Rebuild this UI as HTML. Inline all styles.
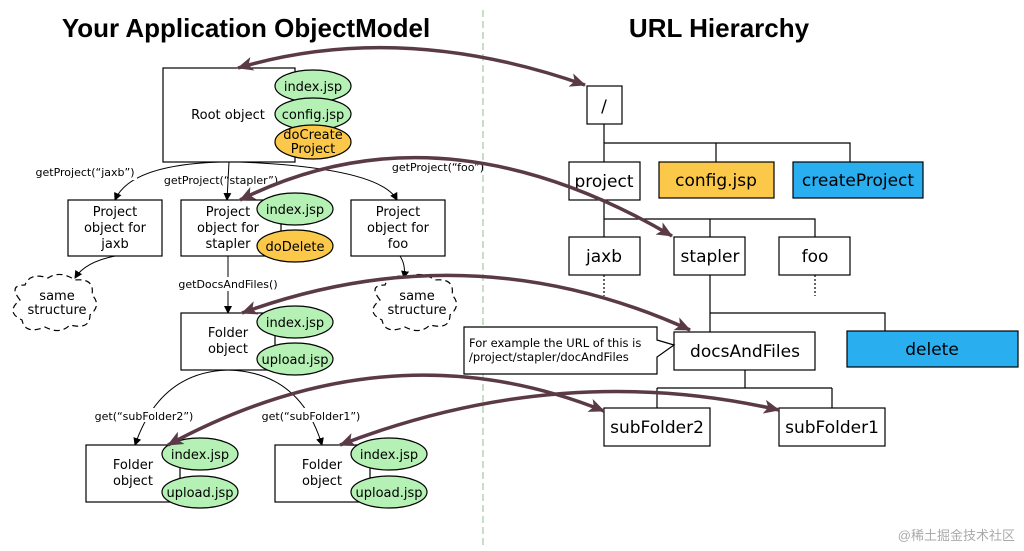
<!DOCTYPE html>
<html><head><meta charset="utf-8"><style>
html,body{margin:0;padding:0;background:#fff;}
svg{display:block;}
text{font-family:"DejaVu Sans","Liberation Sans",sans-serif;}
</style></head><body>
<svg width="1024" height="551" viewBox="0 0 1024 551" xmlns="http://www.w3.org/2000/svg">
<defs>
<marker id="ba" markerWidth="8" markerHeight="8" refX="7" refY="4" orient="auto" markerUnits="userSpaceOnUse"><path d="M0,0 L8,4 L0,8 z" fill="#000"/></marker>
<marker id="bb" markerWidth="16" markerHeight="14" refX="15" refY="7" orient="auto" markerUnits="userSpaceOnUse"><path d="M0,0 L16,7 L0,14 L4,7 z" fill="#5a3a46"/></marker>
<marker id="bs" markerWidth="16" markerHeight="14" refX="1" refY="7" orient="auto" markerUnits="userSpaceOnUse"><path d="M16,0 L0,7 L16,14 L12,7 z" fill="#5a3a46"/></marker>
</defs>
<text x="246" y="37" font-size="26" font-weight="bold" text-anchor="middle" style="font-family:'Liberation Sans',sans-serif">Your Application ObjectModel</text>
<text x="719" y="37" font-size="26" font-weight="bold" text-anchor="middle" style="font-family:'Liberation Sans',sans-serif">URL Hierarchy</text>
<line x1="483" y1="10" x2="483" y2="545" stroke="#8fbf8f" stroke-dasharray="7,4"/>

<g fill="none" stroke="#000" stroke-width="1">
<path d="M220,162 Q130,165 115,200" marker-end="url(#ba)"/>
<path d="M229,162 L227,200" marker-end="url(#ba)"/>
<path d="M240,162 Q380,168 397,200" marker-end="url(#ba)"/>
<path d="M115,256 Q85,262 75,278" marker-end="url(#ba)"/>
<path d="M400,256 Q406,265 404,278" marker-end="url(#ba)"/>
<path d="M228,256 L228,313" marker-end="url(#ba)"/>
<path d="M228,370 Q160,372 135,445" marker-end="url(#ba)"/>
<path d="M228,370 Q300,372 322,445" marker-end="url(#ba)"/>
</g>
<g font-size="11" text-anchor="middle" fill="#000">
<rect x="95" y="168" width="42" height="12" fill="#fff"/>
<text x="85" y="176">getProject(“jaxb”)</text>
<text x="221" y="184">getProject(“stapler”)</text>
<text x="438" y="171">getProject(“foo”)</text>
<rect x="180" y="277" width="96" height="14" fill="#fff"/>
<text x="228" y="288">getDocsAndFiles()</text>
<rect x="96" y="408" width="98" height="14" fill="#fff"/>
<text x="144" y="420">get(“subFolder2”)</text>
<rect x="262" y="408" width="98" height="14" fill="#fff"/>
<text x="311" y="420">get(“subFolder1”)</text>
</g>

<g stroke="#000" stroke-width="1.2" fill="#fff">
<rect x="163" y="68" width="132" height="94"/>
<rect x="68" y="200" width="94" height="56"/>
<rect x="181" y="200" width="100" height="56"/>
<rect x="351" y="200" width="94" height="56"/>
<rect x="181" y="313" width="94" height="57"/>
<rect x="86" y="445" width="94" height="57"/>
<rect x="275" y="445" width="95" height="57"/>
</g>
<g stroke="#000" stroke-width="1.2" stroke-dasharray="6,4" fill="#fff">
<path d="M20,300 Q8,285 25,285 Q30,272 48,278 Q60,270 75,280 Q95,278 92,295 Q102,305 90,315 Q90,330 70,325 Q60,335 45,327 Q25,335 22,320 Q5,312 20,300z"/>
<path d="M380,300 Q368,285 385,285 Q390,272 408,278 Q420,270 435,280 Q455,278 452,295 Q462,305 450,315 Q450,330 430,325 Q420,335 405,327 Q385,335 382,320 Q365,312 380,300z"/>
</g>
<g stroke="#000" stroke-width="1.2">
<ellipse cx="313" cy="86" rx="38" ry="16" fill="#b5f0b5"/>
<ellipse cx="313" cy="114" rx="38" ry="16" fill="#b5f0b5"/>
<ellipse cx="313" cy="142" rx="38" ry="17" fill="#fcc84a"/>
<ellipse cx="295" cy="209" rx="38" ry="16" fill="#b5f0b5"/>
<ellipse cx="295" cy="246" rx="38" ry="16" fill="#fcc84a"/>
<ellipse cx="295" cy="322" rx="38" ry="16" fill="#b5f0b5"/>
<ellipse cx="295" cy="359" rx="38" ry="16" fill="#b5f0b5"/>
<ellipse cx="200" cy="454" rx="38" ry="16" fill="#b5f0b5"/>
<ellipse cx="200" cy="492" rx="38" ry="16" fill="#b5f0b5"/>
<ellipse cx="389" cy="454" rx="38" ry="16" fill="#b5f0b5"/>
<ellipse cx="389" cy="492" rx="38" ry="16" fill="#b5f0b5"/>
</g>
<g font-size="13" text-anchor="middle" fill="#000">
<text x="228" y="119">Root object</text>
<text x="313" y="91">index.jsp</text>
<text x="313" y="119">config.jsp</text>
<text x="313" y="139">doCreate</text><text x="313" y="153">Project</text>
<text x="115" y="216">Project</text><text x="115" y="232">object for</text><text x="115" y="248">jaxb</text>
<text x="228" y="216">Project</text><text x="228" y="232">object for</text><text x="228" y="248">stapler</text>
<text x="398" y="216">Project</text><text x="398" y="232">object for</text><text x="398" y="248">foo</text>
<text x="295" y="214">index.jsp</text>
<text x="295" y="251">doDelete</text>
<text x="57" y="300">same</text><text x="57" y="314">structure</text>
<text x="417" y="300">same</text><text x="417" y="314">structure</text>
<text x="228" y="337">Folder</text><text x="228" y="353">object</text>
<text x="295" y="327">index.jsp</text><text x="295" y="364">upload.jsp</text>
<text x="133" y="469">Folder</text><text x="133" y="485">object</text>
<text x="200" y="459">index.jsp</text><text x="200" y="497">upload.jsp</text>
<text x="322" y="469">Folder</text><text x="322" y="485">object</text>
<text x="389" y="459">index.jsp</text><text x="389" y="497">upload.jsp</text>
</g>

<g stroke="#000" stroke-width="1.2" fill="none">
<path d="M604,124 V162 M604,143 H850 V162 M716,143 V162"/>
<path d="M604,200 V237 M604,219 H815 V237 M710,219 V237"/>
<path d="M710,275 V332 M710,313 H885 V331"/>
<path d="M745,370 V388 M657,388 H832 M657,388 V408 M832,388 V408"/>
<path d="M604,275 V296 M815,275 V296" stroke-dasharray="2,2"/>
</g>
<g stroke="#000" stroke-width="1.2" fill="#fff">
<rect x="587" y="86" width="35" height="38"/>
<rect x="569" y="162" width="71" height="38"/>
<rect x="659" y="162" width="115" height="36" fill="#fcc84a"/>
<rect x="793" y="162" width="130" height="36" fill="#29aef0"/>
<rect x="569" y="237" width="71" height="38"/>
<rect x="674" y="237" width="71" height="38"/>
<rect x="779" y="237" width="71" height="38"/>
<rect x="674" y="332" width="141" height="38"/>
<rect x="847" y="331" width="171" height="36" fill="#29aef0"/>
<rect x="604" y="408" width="106" height="38"/>
<rect x="779" y="408" width="106" height="38"/>
<path d="M464,327 H657 V340 L674,345 L657,357 V374 H464 Z"/>
</g>
<g font-size="17" text-anchor="middle" fill="#000">
<text x="604" y="112">/</text>
<text x="604" y="187">project</text>
<text x="716" y="186">config.jsp</text>
<text x="858" y="186">createProject</text>
<text x="604" y="262">jaxb</text>
<text x="710" y="262">stapler</text>
<text x="815" y="262">foo</text>
<text x="745" y="357">docsAndFiles</text>
<text x="932" y="355">delete</text>
<text x="657" y="433">subFolder2</text>
<text x="832" y="433">subFolder1</text>
</g>
<text x="469" y="347" font-size="11.5">For example the URL of this is</text>
<text x="469" y="361" font-size="11.5">/project/stapler/docAndFiles</text>

<g stroke="#5a3a46" stroke-width="3.5" fill="none">
<path d="M238,68 Q400,20 585,85" marker-start="url(#bs)" marker-end="url(#bb)"/>
<path d="M240,200 Q440,100 672,236" marker-start="url(#bs)" marker-end="url(#bb)"/>
<path d="M242,313 Q470,230 690,330" marker-start="url(#bs)" marker-end="url(#bb)"/>
<path d="M168,445 Q390,325 604,411" marker-start="url(#bs)" marker-end="url(#bb)"/>
<path d="M340,445 Q560,360 779,410" marker-start="url(#bs)" marker-end="url(#bb)"/>
</g>
<text x="1015" y="540" font-size="13" fill="#aaa" text-anchor="end" style="font-family:'Liberation Sans','Noto Sans CJK SC',sans-serif">@稀土掘金技术社区</text>
</svg>
</body></html>
